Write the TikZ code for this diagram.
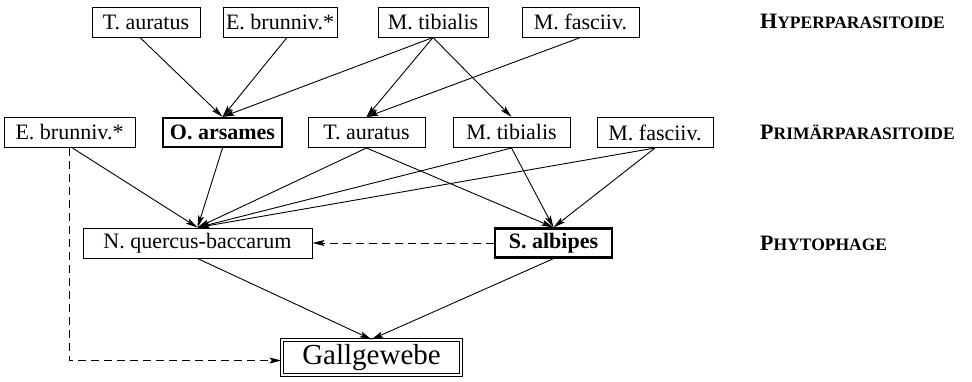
\documentclass[tikz,border=0pt]{standalone}
\usepackage{fontspec}
\setmainfont{Liberation Serif}
\usetikzlibrary{arrows.meta}
\newcommand\mysc[2]{{\fontsize{22}{22}\selectfont #1}{\fontsize{17.5}{17.5}\selectfont #2}}
\tikzset{
  box/.style={draw, line width=1pt, minimum height=30pt, inner sep=0pt, font=\fontsize{22}{26}\selectfont},
  boldbox/.style={box, line width=2.2pt, font=\fontsize{22}{26}\selectfont\bfseries},
  dblbox/.style={draw, double, line width=0.8pt, double distance=2pt, minimum height=35.4pt, minimum width=179.4pt, inner sep=0pt, font=\fontsize{29}{33}\selectfont},
  conn/.style={line width=0.9pt, -{Stealth[length=12pt,width=6pt,inset=2.5pt]}},
  dconn/.style={conn, dash pattern=on 8pt off 5pt},
  level/.style={anchor=base west, inner sep=0pt, font=\bfseries}
}
\begin{document}
\begin{tikzpicture}[x=1pt,y=-1pt]
\useasboundingbox (0,0) rectangle (972,381);
% top row
\node[box, minimum width=108pt] (ta1) at (146,22) {T. auratus};
\node[box, minimum width=114pt] (eb1) at (280,22) {E. brunniv.*};
\node[box, minimum width=110pt] (mt1) at (433,22) {M. tibialis};
\node[box, minimum width=117pt] (mf1) at (580.5,22) {M. fasciiv.};
% middle row
\node[box, minimum width=131pt] (eb2) at (69.5,132.5) {E. brunniv.*};
\node[boldbox, minimum width=119pt, minimum height=29pt] (oa) at (222.5,132.5) {O. arsames};
\node[box, minimum width=117pt] (ta2) at (366.5,132.5) {T. auratus};
\node[box, minimum width=117pt] (mt2) at (511.5,132.5) {M. tibialis};
\node[box, minimum width=116pt] (mf2) at (655,132.5) {M. fasciiv.};
% third row
\node[box, minimum width=229pt] (nq) at (197.5,243) {N. quercus-baccarum};
\node[boldbox, minimum width=117pt, minimum height=29pt] (sa) at (553.5,243) {S. albipes};
% bottom
\node[dblbox] (gg) at (371.5,357.5) {Gallgewebe};
% level labels
\node[level] (l1) at (760,28) {\mysc{H}{YPERPARASITOIDE}};
\node[level] (l2) at (760,139) {\mysc{P}{RIMÄRPARASITOIDE}};
\node[level] (l3) at (760,250) {\mysc{P}{HYTOPHAGE}};
% connectors top -> middle
\draw[conn] ([xshift=-6pt]ta1.south) -- (oa.north);
\draw[conn] ([xshift=7pt]eb1.south) -- (oa.north);
\draw[conn] (mt1.south) -- (oa.north);
\draw[conn] (mt1.south) -- (ta2.north);
\draw[conn] (mt1.south) -- (mt2.north);
\draw[conn] (mf1.south) -- (ta2.north);
% middle -> third
\draw[conn] ([xshift=3pt]eb2.south) -- (nq.north);
\draw[conn] (oa.south) -- (nq.north);
\draw[conn] (ta2.south) -- (nq.north);
\draw[conn] (mt2.south) -- (nq.north);
\draw[conn] (mf2.south) -- (nq.north);
\draw[conn] (ta2.south) -- (sa.north);
\draw[conn] (mt2.south) -- (sa.north);
\draw[conn] (mf2.south) -- (sa.north);
\draw[dconn] (sa.west) -- (nq.east);
% third -> bottom
\draw[conn] (nq.south) -- (gg.north);
\draw[conn] (sa.south) -- (gg.north);
\draw[dconn] (eb2.south) |- ([yshift=-3pt]gg.west);
\end{tikzpicture}
\end{document}
